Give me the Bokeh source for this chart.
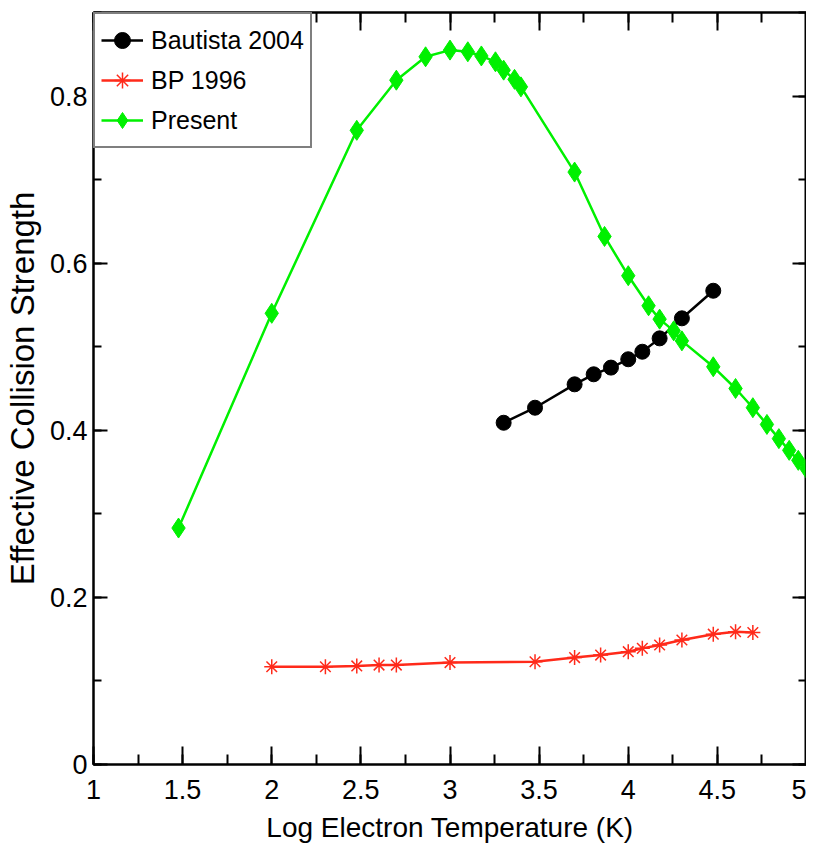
from bokeh.plotting import figure
from bokeh.models import Range1d, SingleIntervalTicker, LinearAxis, CustomJSTickFormatter
from bokeh.embed import file_html
from bokeh.resources import INLINE

# Data (log10 T, effective collision strength)
present_x = [1.477, 2.0, 2.477, 2.699, 2.863, 3.0, 3.1, 3.176, 3.255, 3.301, 3.362, 3.398,
             3.699, 3.867, 4.0, 4.114, 4.176, 4.255, 4.301, 4.477, 4.602, 4.699, 4.778,
             4.845, 4.903, 4.954, 5.0]
present_y = [0.283, 0.540, 0.759, 0.819, 0.847, 0.855, 0.853, 0.848, 0.841, 0.831, 0.820, 0.811,
             0.709, 0.632, 0.585, 0.549, 0.533, 0.519, 0.507, 0.476, 0.450, 0.427, 0.407,
             0.390, 0.376, 0.364, 0.354]

bautista_x = [3.301, 3.477, 3.699, 3.806, 3.903, 4.0, 4.079, 4.176, 4.301, 4.477]
bautista_y = [0.409, 0.427, 0.455, 0.467, 0.475, 0.485, 0.494, 0.510, 0.534, 0.567]

bp_x = [2.0, 2.301, 2.477, 2.602, 2.699, 3.0, 3.477, 3.699, 3.845, 4.0, 4.079, 4.176,
        4.301, 4.477, 4.602, 4.699]
bp_y = [0.117, 0.117, 0.118, 0.119, 0.119, 0.122, 0.123, 0.128, 0.131, 0.135, 0.139, 0.143,
        0.149, 0.156, 0.159, 0.158]

FONT = "Liberation Sans"

p = figure(frame_width=713, frame_height=752, output_backend="svg", toolbar_location=None,
           x_range=Range1d(1, 5), y_range=Range1d(0, 0.9),
           min_border_left=85, min_border_right=0, min_border_top=12, min_border_bottom=0)
p.xgrid.visible = False
p.ygrid.visible = False
p.outline_line_color = "black"
p.outline_line_width = 2

fmt = CustomJSTickFormatter(code="return Number(tick.toFixed(2)).toString();")
blank = CustomJSTickFormatter(code="return '';")

xa = p.xaxis[0]
xa.ticker = SingleIntervalTicker(interval=0.5, num_minor_ticks=2)
xa.formatter = fmt
ya = p.yaxis[0]
ya.ticker = SingleIntervalTicker(interval=0.2, num_minor_ticks=2)
ya.formatter = fmt

xa.axis_label = "Log Electron Temperature (K)"
ya.axis_label = "Effective Collision Strength"

for ax, major, minor in [(xa, 18, 10), (ya, 14, 8)]:
    ax.axis_line_width = 2
    ax.axis_line_color = "black"
    ax.major_tick_in = major
    ax.major_tick_out = 0
    ax.minor_tick_in = minor
    ax.minor_tick_out = 0
    ax.major_tick_line_width = 2
    ax.minor_tick_line_width = 2
    ax.major_tick_line_color = "black"
    ax.minor_tick_line_color = "black"
    ax.major_label_text_font = FONT
    ax.major_label_text_font_size = "27px"
    ax.major_label_text_color = "black"
    ax.axis_label_text_font = FONT
    ax.axis_label_text_font_style = "normal"
    ax.axis_label_text_color = "black"

xa.axis_label_text_font_size = "28px"
ya.axis_label_text_font_size = "33px"
xa.major_label_standoff = 15
ya.major_label_standoff = 6
xa.axis_label_standoff = 10
ya.axis_label_standoff = 6

# mirrored axes (ticks only)
for loc, interval, major, minor in [("right", 0.2, 14, 8), ("above", 0.5, 18, 10)]:
    ax = LinearAxis(ticker=SingleIntervalTicker(interval=interval, num_minor_ticks=2),
                    formatter=blank)
    ax.major_label_text_font_size = "1px"
    ax.major_label_standoff = 0
    ax.axis_line_width = 2
    ax.major_tick_in = major
    ax.major_tick_out = 0
    ax.minor_tick_in = minor
    ax.minor_tick_out = 0
    ax.major_tick_line_width = 2
    ax.minor_tick_line_width = 2
    p.add_layout(ax, loc)

# Bautista 2004
p.line(bautista_x, bautista_y, line_color="black", line_width=2.5, legend_label="Bautista 2004")
p.scatter(bautista_x, bautista_y, marker="circle", size=15, fill_color="black",
          line_color="black", legend_label="Bautista 2004")

# BP 1996
p.line(bp_x, bp_y, line_color="#ff2a1a", line_width=2.5, legend_label="BP 1996")
p.scatter(bp_x, bp_y, marker="asterisk", size=15, line_color="#ff2a1a", line_width=1.5,
          legend_label="BP 1996")

# Present
p.line(present_x, present_y, line_color="#00f000", line_width=2.5, legend_label="Present")
p.scatter(present_x, present_y, marker="diamond", size=20, fill_color="#00f000",
          line_color="#00f000", legend_label="Present")

lg = p.legend[0]
lg.location = "top_left"
lg.margin = 0
lg.padding = 6
lg.spacing = 0
lg.label_text_font = FONT
lg.label_text_font_size = "25px"
lg.label_text_color = "black"
lg.label_height = 40
lg.glyph_height = 40
lg.glyph_width = 42
lg.label_standoff = 8
lg.border_line_color = "black"
lg.border_line_width = 2
lg.background_fill_alpha = 1

open("out.html", "w").write(file_html(p, INLINE))
